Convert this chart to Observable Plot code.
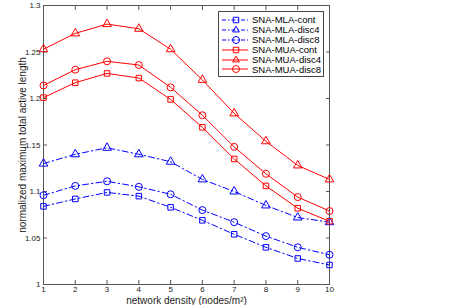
<!DOCTYPE html>
<html><head><meta charset="utf-8">
<script src="https://cdn.jsdelivr.net/npm/d3@7"></script>
<script src="https://cdn.jsdelivr.net/npm/@observablehq/plot@0.6"></script>
<style>
body{margin:0;background:#fff;font-family:"Liberation Sans",Arial,sans-serif;}
#wrap{position:relative;width:450px;height:305px;}
#legend{position:absolute;left:218px;top:11px;width:106px;height:66px;border:1px solid #444;background:#fff;box-sizing:border-box;padding-top:3px;}
#legend .row{height:9.9px;display:flex;align-items:center;font-size:9.5px;color:#000;white-space:nowrap;}
#legend svg{margin-left:3px;margin-right:4px;flex-shrink:0;}
</style></head>
<body><div id="wrap"><div id="chart"></div><div id="legend"></div></div>
<script>
const density = [1,2,3,4,5,6,7,8,9,10];
const seriesNames = ["SNA-MLA-cont","SNA-MLA-disc4","SNA-MLA-disc8","SNA-MUA-cont","SNA-MUA-disc4","SNA-MUA-disc8"];
const mlaCont  = [1.084,1.092,1.099,1.095,1.083,1.069,1.054,1.040,1.028,1.021];
const mlaDisc4 = [1.130,1.140,1.147,1.140,1.132,1.113,1.100,1.085,1.072,1.067];
const mlaDisc8 = [1.096,1.106,1.111,1.105,1.097,1.080,1.067,1.052,1.040,1.032];
const muaCont  = [1.201,1.217,1.227,1.222,1.199,1.169,1.135,1.106,1.082,1.068];
const muaDisc4 = [1.253,1.270,1.280,1.275,1.253,1.220,1.184,1.154,1.128,1.113];
const muaDisc8 = [1.214,1.231,1.240,1.236,1.212,1.182,1.148,1.119,1.094,1.079];
const yTicks = [1,1.05,1.1,1.15,1.2,1.25,1.3];
const xTicks = density;

const dashDot = "6,3,1.5,3";
const series = [
  {name: seriesNames[0], values: mlaCont,  color: "#0000ff", symbol: "square",   r: 3.1, dash: dashDot},
  {name: seriesNames[1], values: mlaDisc4, color: "#0000ff", symbol: "triangle", r: 3.2, dash: dashDot},
  {name: seriesNames[2], values: mlaDisc8, color: "#0000ff", symbol: "circle",   r: 3.5, dash: dashDot},
  {name: seriesNames[3], values: muaCont,  color: "#ff0000", symbol: "square",   r: 3.1, dash: null},
  {name: seriesNames[4], values: muaDisc4, color: "#ff0000", symbol: "triangle", r: 3.2, dash: null},
  {name: seriesNames[5], values: muaDisc8, color: "#ff0000", symbol: "circle",   r: 3.5, dash: null}
];

const marks = [];
for (const s of series) {
  const rows = s.values.map((v, i) => ({x: density[i], y: v}));
  marks.push(Plot.line(rows, {x: "x", y: "y", stroke: s.color, strokeWidth: 1, strokeDasharray: s.dash}));
  marks.push(Plot.dot(rows, {x: "x", y: "y", stroke: s.color, fill: "none", strokeWidth: 1, symbol: s.symbol, r: s.r}));
}
const fmt = d => String(+d.toFixed(2));
const plot = Plot.plot({
  width: 450, height: 305,
  marginLeft: 43, marginRight: 121, marginTop: 5, marginBottom: 21,
  style: {fontFamily: "Liberation Sans, Arial, sans-serif", fontSize: "8px", color: "#222", background: "#fff"},
  x: {domain: [1, 10]},
  y: {domain: [1, 1.3]},
  marks: [
    Plot.frame({stroke: "#555"}),
    Plot.axisX(xTicks, {anchor: "bottom", tickSize: -4, tickPadding: 5.5, stroke: "#555", tickFormat: fmt,
      label: "network density (nodes/m²)", labelAnchor: "center", labelArrow: "none", labelOffset: 19}),
    Plot.axisX(xTicks, {anchor: "top", tickSize: -4, stroke: "#555", tickFormat: () => "", label: null}),
    Plot.axisY(yTicks, {anchor: "left", tickSize: -4, tickPadding: 7, stroke: "#555", tickFormat: fmt,
      label: "normalized maximum total active length", labelAnchor: "center", labelArrow: "none", labelOffset: 25}),
    Plot.axisY(yTicks, {anchor: "right", tickSize: -4, stroke: "#555", tickFormat: () => "", label: null}),
    ...marks
  ]
});
document.getElementById("chart").appendChild(plot);
d3.select(plot).selectAll("[aria-label$='axis label'] text").style("font-size", "10px").style("fill", "#222");

const leg = d3.select("#legend");
for (const s of series) {
  const row = leg.append("div").attr("class", "row");
  const svg = row.append("svg").attr("width", 26).attr("height", 10);
  svg.append("line").attr("x1", 0).attr("x2", 26).attr("y1", 5).attr("y2", 5)
    .attr("stroke", s.color).attr("stroke-width", 1).attr("stroke-dasharray", s.dash ? "4,2,1.5,2" : null);
  const sym = {square: d3.symbolSquare, triangle: d3.symbolTriangle2, circle: d3.symbolCircle}[s.symbol];
  svg.append("path").attr("transform", "translate(14,5)")
    .attr("d", d3.symbol(sym, Math.PI * s.r * s.r)())
    .attr("fill", "none").attr("stroke", s.color);
  row.append("span").text(s.name);
}
</script></body></html>
